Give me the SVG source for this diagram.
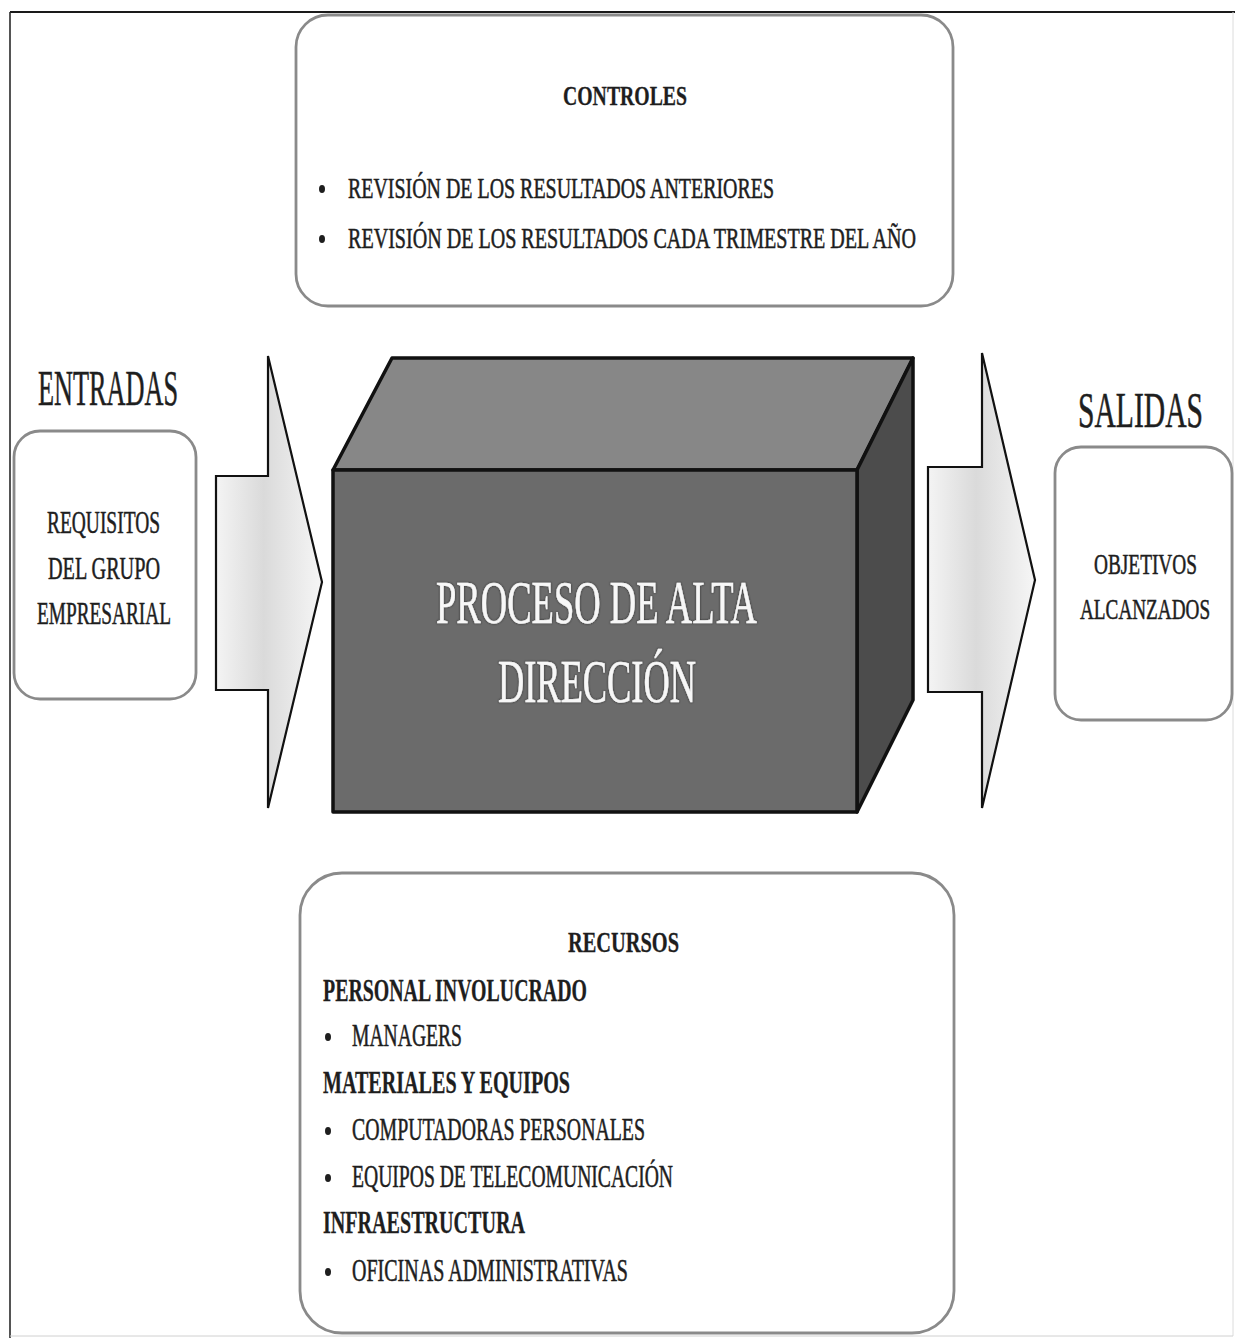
<svg xmlns="http://www.w3.org/2000/svg" width="1235" height="1338" viewBox="0 0 1235 1338">
  <style>
    .panel { fill: #ffffff; stroke: #8a8a8a; stroke-width: 2.8; }
    .t { font-family: "Liberation Serif", "Times New Roman", serif; fill: #1e1e1e; stroke: #1e1e1e; stroke-width: 0.55; }
    .b { font-weight: bold; stroke-width: 0.3; }
    .arrow { fill: url(#stemGrad); stroke: #111111; stroke-width: 2.2; stroke-linejoin: miter; }
    .edge { stroke: #111111; stroke-width: 3.5; stroke-linejoin: round; }
    .big { font-family: "Liberation Serif", "Times New Roman", serif; fill: #f7f7f7; font-size: 62px; stroke: #f7f7f7; stroke-width: 0.5; }
    .dot { fill: #1e1e1e; }
  </style>
  <defs>
    <linearGradient id="stemGrad" x1="0" y1="0" x2="1" y2="0">
      <stop offset="0" stop-color="#f4f4f4"/>
      <stop offset="0.45" stop-color="#dadada"/>
      <stop offset="1" stop-color="#f6f6f6"/>
    </linearGradient>
    <filter id="soft" x="-5%" y="-5%" width="110%" height="110%">
      <feGaussianBlur stdDeviation="0.6"/>
    </filter>
    <filter id="glow" x="-10%" y="-20%" width="120%" height="140%">
      <feDropShadow dx="0" dy="0" stdDeviation="1.2" flood-color="#202020" flood-opacity="0.9"/>
    </filter>
  </defs>

  <rect width="1235" height="1338" fill="#ffffff"/>

  <!-- page frame -->
  <g id="frame">
    <line x1="10" y1="12" x2="1235" y2="12" stroke="#1a1a1a" stroke-width="2"/>
    <line x1="10" y1="12" x2="10" y2="1338" stroke="#2a2a2a" stroke-width="1.6"/>
    <line x1="1233" y1="12" x2="1233" y2="1336" stroke="#dcdcdc" stroke-width="1"/>
    <line x1="10" y1="1336" x2="1233" y2="1336" stroke="#d0d0d0" stroke-width="1"/>
  </g>

  <!-- flow arrows -->
  <g id="connectors">
    <path class="arrow" d="M216,476 L268,476 L268,356 L322,582 L268,808 L268,690 L216,690 Z"/>
    <path class="arrow" d="M928,467 L982,467 L982,353 L1035,580 L982,808 L982,692 L928,692 Z"/>
  </g>

  <!-- controls panel -->
  <g id="controles">
    <rect class="panel" x="296" y="15" width="657" height="291" rx="32" filter="url(#soft)"/>
    <text class="t b" x="563" y="105" font-size="27" textLength="124" lengthAdjust="spacingAndGlyphs">CONTROLES</text>
    <ellipse class="dot" cx="322" cy="189" rx="3" ry="4"/>
    <text class="t" x="348" y="198" font-size="30" textLength="426" lengthAdjust="spacingAndGlyphs">REVISIÓN DE LOS RESULTADOS ANTERIORES</text>
    <ellipse class="dot" cx="322" cy="239" rx="3" ry="4"/>
    <text class="t" x="348" y="248" font-size="30" textLength="568" lengthAdjust="spacingAndGlyphs">REVISIÓN DE LOS RESULTADOS CADA TRIMESTRE  DEL AÑO</text>
  </g>

  <!-- inputs -->
  <g id="entradas">
    <text class="t" x="38" y="405" font-size="50" textLength="140" lengthAdjust="spacingAndGlyphs">ENTRADAS</text>
    <rect class="panel" x="14" y="431" width="182" height="268" rx="26" filter="url(#soft)"/>
    <text class="t" x="47" y="533" font-size="32" textLength="113" lengthAdjust="spacingAndGlyphs">REQUISITOS</text>
    <text class="t" x="48" y="579" font-size="32" textLength="112" lengthAdjust="spacingAndGlyphs">DEL GRUPO</text>
    <text class="t" x="37" y="624" font-size="32" textLength="134" lengthAdjust="spacingAndGlyphs">EMPRESARIAL</text>
  </g>

  <!-- outputs: condensed by horizontal scaling -->
  <g id="salidas">
    <text class="t" transform="translate(1078,427) scale(0.592,1)" x="0" y="0" font-size="50">SALIDAS</text>
    <rect class="panel" x="1055" y="447" width="177" height="273" rx="26" filter="url(#soft)"/>
    <text class="t" transform="translate(1094,574) scale(0.644,1)" x="0" y="0" font-size="30">OBJETIVOS</text>
    <text class="t" transform="translate(1080,619) scale(0.64,1)" x="0" y="0" font-size="30">ALCANZADOS</text>
  </g>

  <!-- central process block -->
  <g id="proceso">
    <polygon class="edge" points="333,470 392,358 913,358 857,470" fill="#878787"/>
    <polygon class="edge" points="857,470 913,358 913,700 857,812" fill="#4c4c4c"/>
    <rect class="edge" x="333" y="470" width="524" height="342" fill="#6b6b6b"/>
    <text class="big" x="436" y="623" textLength="321" lengthAdjust="spacingAndGlyphs" filter="url(#glow)">PROCESO DE ALTA</text>
    <text class="big" x="498" y="702" textLength="198" lengthAdjust="spacingAndGlyphs" filter="url(#glow)">DIRECCIÓN</text>
  </g>

  <!-- resources panel -->
  <g id="recursos">
    <rect class="panel" x="300" y="873" width="654" height="460" rx="42" filter="url(#soft)"/>
    <text class="t b" x="568" y="952" font-size="30" textLength="111" lengthAdjust="spacingAndGlyphs">RECURSOS</text>
    <text class="t b" x="323" y="1001" font-size="32" textLength="264" lengthAdjust="spacingAndGlyphs">PERSONAL INVOLUCRADO</text>
    <ellipse class="dot" cx="328" cy="1037" rx="3" ry="4"/>
    <text class="t" x="352" y="1046" font-size="31" textLength="110" lengthAdjust="spacingAndGlyphs">MANAGERS</text>
    <text class="t b" x="323" y="1093" font-size="32" textLength="247" lengthAdjust="spacingAndGlyphs">MATERIALES Y EQUIPOS</text>
    <ellipse class="dot" cx="328" cy="1131" rx="3" ry="4"/>
    <text class="t" x="352" y="1140" font-size="31" textLength="293" lengthAdjust="spacingAndGlyphs">COMPUTADORAS PERSONALES</text>
    <ellipse class="dot" cx="328" cy="1178" rx="3" ry="4"/>
    <text class="t" x="352" y="1187" font-size="31" textLength="321" lengthAdjust="spacingAndGlyphs">EQUIPOS DE TELECOMUNICACIÓN</text>
    <text class="t b" x="323" y="1233" font-size="32" textLength="202" lengthAdjust="spacingAndGlyphs">INFRAESTRUCTURA</text>
    <ellipse class="dot" cx="328" cy="1272" rx="3" ry="4"/>
    <text class="t" x="352" y="1281" font-size="31" textLength="276" lengthAdjust="spacingAndGlyphs">OFICINAS ADMINISTRATIVAS</text>
  </g>
</svg>
